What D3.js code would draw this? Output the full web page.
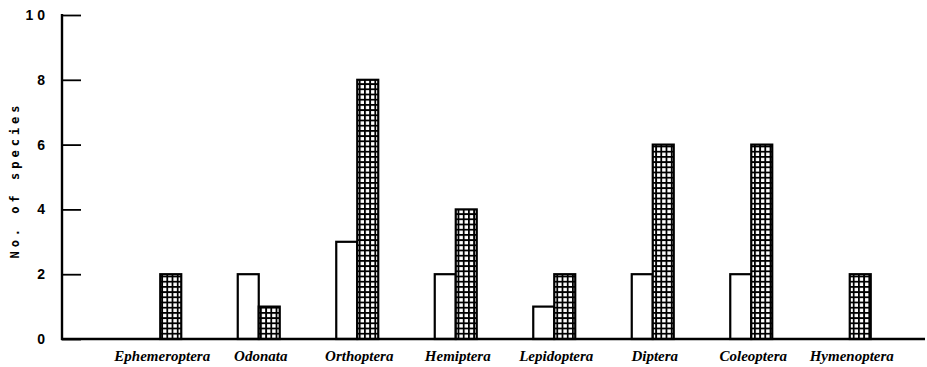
<!DOCTYPE html>
<html><head><meta charset="utf-8">
<script src="https://cdn.jsdelivr.net/npm/d3@7"></script>
<style>body{margin:0;background:#fff;} svg{display:block;}</style>
</head><body>
<script>
const categories = ["Ephemeroptera","Odonata","Orthoptera","Hemiptera","Lepidoptera","Diptera","Coleoptera","Hymenoptera"];
const openValues = [0,2,3,2,1,2,2,0];
const hatchedValues = [2,1,8,4,2,6,6,2];
const tickValues = [0,2,4,6,8,10];
const tickLabels = ["0","2","4","6","8","1 0"];
const seriesKeys = ["open","hatched"];

const W = 927, H = 367;
const svg = d3.select("body").append("svg").attr("width", W).attr("height", H);

const defs = svg.append("defs");
const pat = defs.append("pattern").attr("id","grid").attr("patternUnits","userSpaceOnUse")
  .attr("width",5.2).attr("height",5.2).attr("x",0).attr("y",0);
pat.append("rect").attr("width",5.2).attr("height",5.2).attr("fill","#000");
pat.append("rect").attr("x",1.8).attr("y",1.8).attr("width",3.4).attr("height",3.4).attr("fill","#fff");

const y = d3.scaleLinear().domain([0,10]).range([339,15]);
const x = d3.scaleBand().domain(categories).range([111,899]);
const xs = d3.scaleBand().domain(seriesKeys).range([-21,21]);

const data = categories.map((c,i)=>({c, open:openValues[i], hatched:hatchedValues[i]}));

// bars
const g = svg.append("g");
data.forEach(d=>{
  const cx = x(d.c) + x.bandwidth()/2;
  seriesKeys.forEach(k=>{
    if (d[k] <= 0) return;
    g.append("rect")
      .attr("x", cx + xs(k))
      .attr("y", y(d[k]))
      .attr("width", xs.bandwidth())
      .attr("height", y(0) - y(d[k]))
      .attr("fill", k==="open" ? "#fff" : "url(#grid)")
      .attr("stroke","#000").attr("stroke-width",2.2);
  });
});

// y axis
const yAxis = d3.axisRight(y).tickValues(tickValues).tickSize(19).tickFormat("");
const ya = svg.append("g").attr("transform","translate(62,0)").call(yAxis);
ya.select(".domain").remove();
ya.selectAll(".tick line").attr("stroke","#000").attr("stroke-width",1.8);
svg.append("line").attr("x1",62).attr("x2",62).attr("y1",14).attr("y2",340)
  .attr("stroke","#000").attr("stroke-width",2.4);
svg.selectAll(".ylab").data(tickValues).enter().append("text")
  .attr("x",45).attr("y",d=>y(d)+5).attr("text-anchor","end")
  .attr("font-family","Liberation Sans, Arial, sans-serif").attr("font-weight","bold")
  .attr("font-size",14).text((d,i)=>tickLabels[i]);

// x axis
svg.append("line").attr("x1",61).attr("x2",925).attr("y1",y(0)).attr("y2",y(0))
  .attr("stroke","#000").attr("stroke-width",2.4);
svg.selectAll(".xlab").data(categories).enter().append("text")
  .attr("x",d=>x(d)+x.bandwidth()/2+2).attr("y",361).attr("text-anchor","middle")
  .attr("font-family","Liberation Serif, Times New Roman, serif").attr("font-weight","bold")
  .attr("font-style","italic").attr("font-size",15).text(d=>d);

// y label
svg.append("text").attr("transform","translate(19,180) rotate(-90)")
  .attr("text-anchor","middle")
  .attr("font-family","DejaVu Sans Mono, Liberation Mono, monospace").attr("font-weight","bold")
  .attr("font-size",12).attr("letter-spacing","4px").text("No. of species");
</script>
</body></html>
